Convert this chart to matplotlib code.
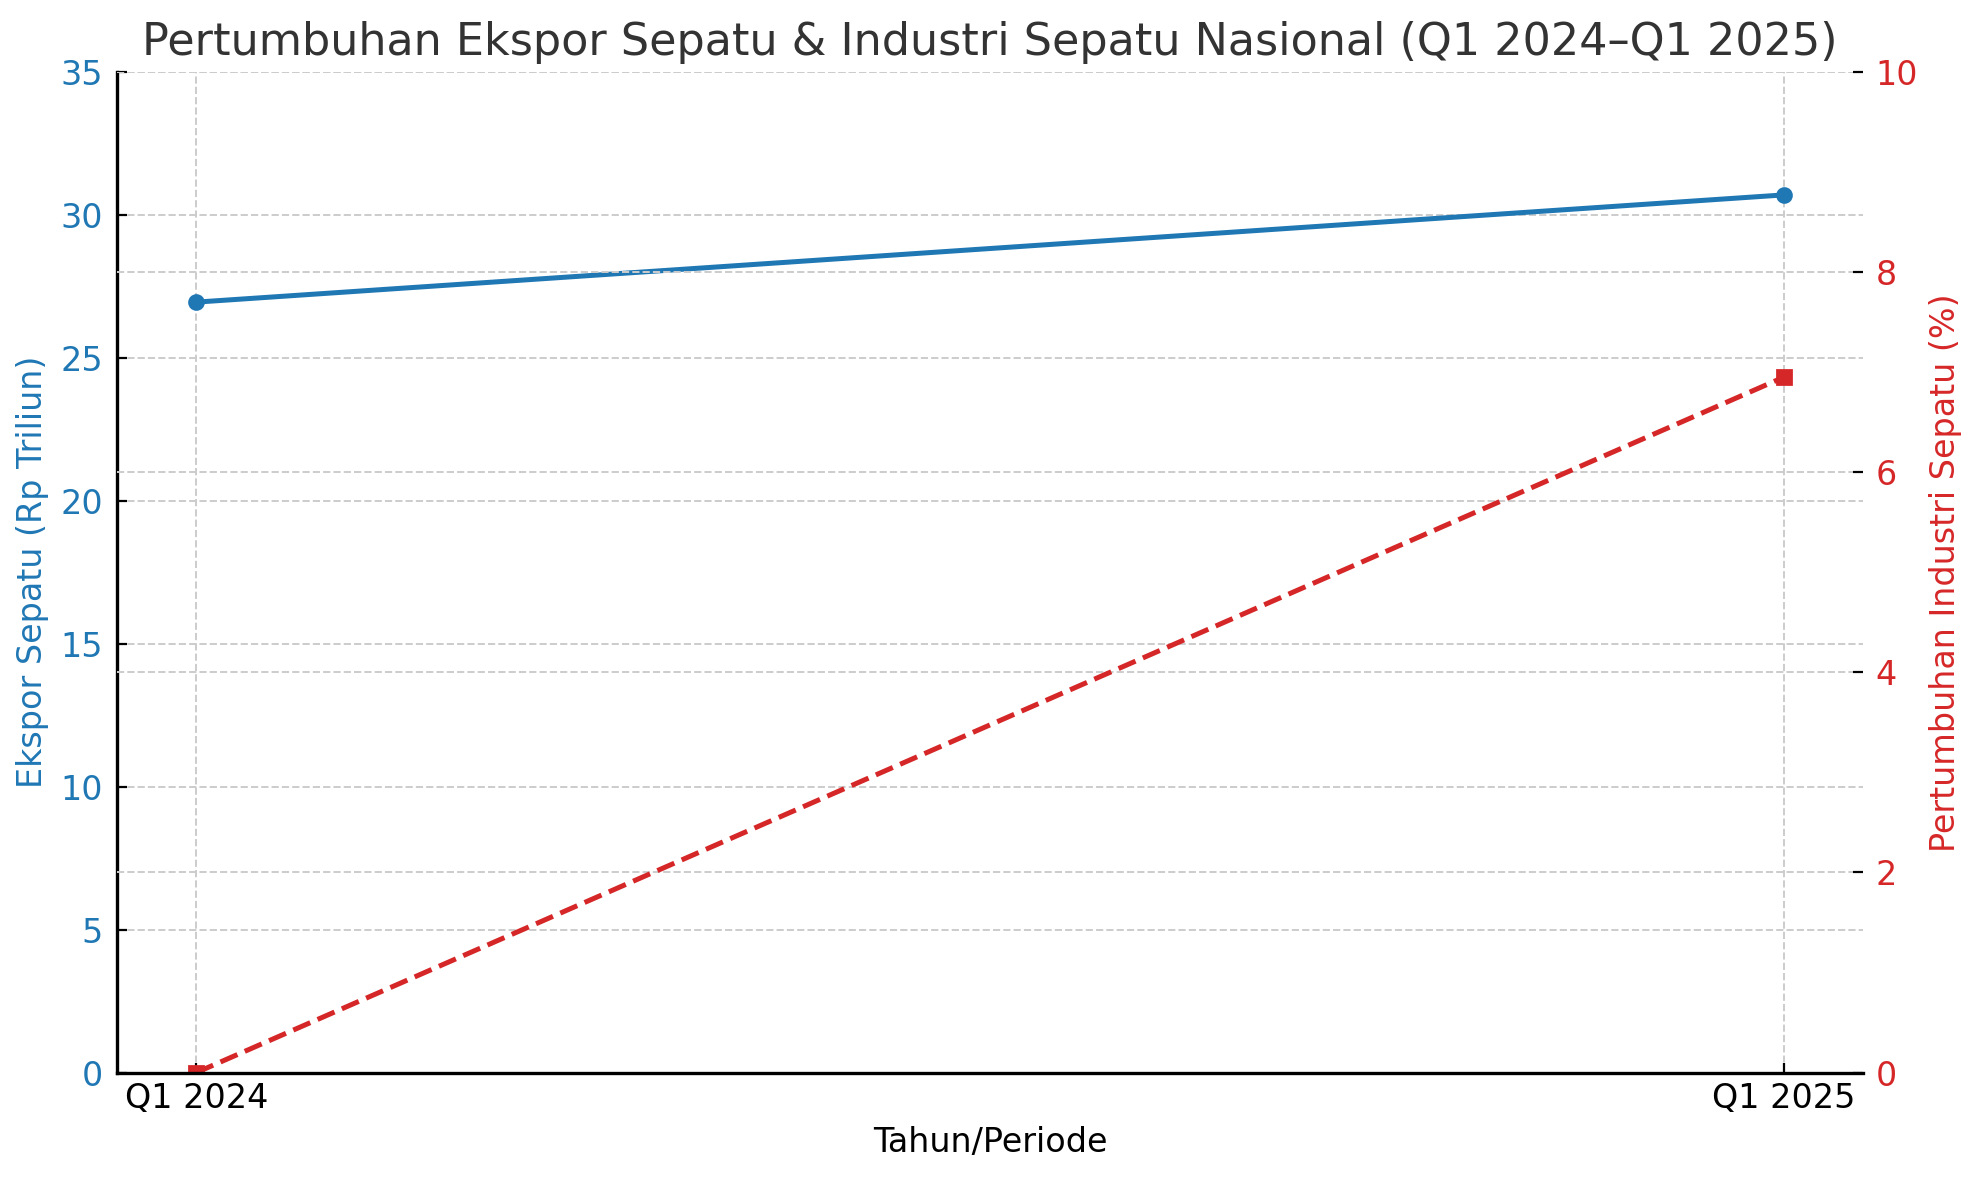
import matplotlib
matplotlib.use("Agg")
import matplotlib.pyplot as plt

periods = ["Q1 2024", "Q1 2025"]
ekspor = [26.95, 30.7]          # Rp triliun
pertumbuhan = [0.0, 6.95]       # persen

blue = "#1f77b4"
red = "#d62728"

fig, ax1 = plt.subplots(figsize=(9.9, 5.9), dpi=200)
x = range(len(periods))

ax1.plot(x, ekspor, color=blue, marker="o", markersize=5, linewidth=1.8)
ax1.set_ylim(0, 35)
ax1.set_ylabel("Ekspor Sepatu (Rp Triliun)", color=blue, fontsize=12)
ax1.tick_params(axis="y", labelcolor=blue, labelsize=12, direction="in", pad=5)
ax1.tick_params(axis="x", labelsize=12, direction="in", pad=3.5)
ax1.set_xticks(list(x))
ax1.set_xticklabels(periods)
ax1.set_xlabel("Tahun/Periode", fontsize=12)
ax1.grid(True, linestyle="--", color="#cccccc", linewidth=0.7)

ax2 = ax1.twinx()
ax2.plot(x, pertumbuhan, color=red, marker="s", markersize=5, linewidth=1.8, linestyle="--")
ax2.set_ylim(0, 10)
ax2.set_ylabel("Pertumbuhan Industri Sepatu (%)", color=red, fontsize=12)
ax2.tick_params(axis="y", labelcolor=red, labelsize=12, direction="in", pad=4.5)
ax2.grid(True, axis="y", linestyle="--", color="#cccccc", linewidth=0.7)

# only left and bottom spines, bottom drawn on the top axes so the grid doesn't cover it
for ax in (ax1, ax2):
    ax.spines["top"].set_visible(False)
    ax.spines["right"].set_visible(False)
ax1.spines["bottom"].set_visible(False)
ax2.spines["left"].set_visible(False)
ax1.spines["left"].set_linewidth(1.2)
ax2.spines["bottom"].set_linewidth(1.2)

ax1.set_title("Pertumbuhan Ekspor Sepatu & Industri Sepatu Nasional (Q1 2024\u2013Q1 2025)",
              fontsize=16, color="#333333")

fig.subplots_adjust(left=0.059, right=0.941, top=0.939, bottom=0.091)
fig.savefig("out.png")
